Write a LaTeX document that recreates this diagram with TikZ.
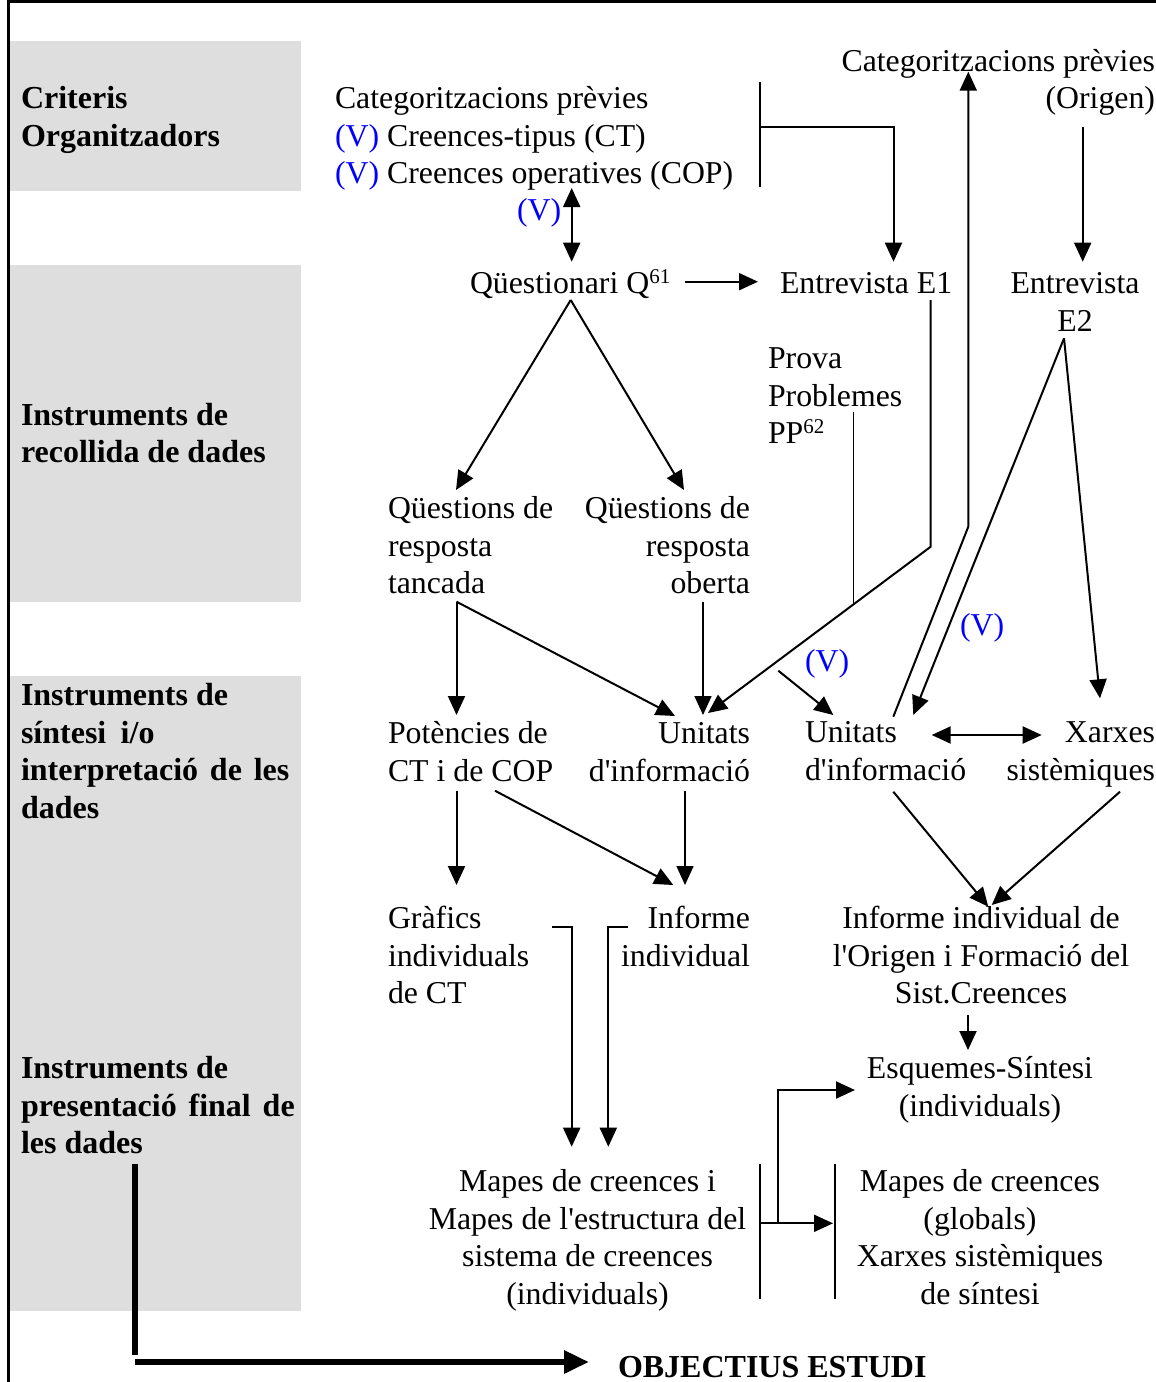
\documentclass[tikz,border=0pt]{standalone}
\usepackage{fontspec}
\setmainfont{Liberation Serif}[Ligatures=TeXOff]
\usetikzlibrary{arrows.meta}
\definecolor{vblue}{RGB}{0,0,255}
\definecolor{bandgray}{RGB}{222,222,222}
% raised small figures for footnote marks
\newcommand\supx[1]{\raisebox{10pt}{\fontsize{21}{21}\selectfont #1}}
\begin{document}
\begin{tikzpicture}[x=1pt,y=-1pt,
  every node/.style={inner sep=0pt, outer sep=0pt, font=\fontsize{31.8}{37.5}\selectfont},
  txl/.style={anchor=north west, yshift=25.5pt, align=left},
  txr/.style={anchor=north east, yshift=25.5pt, align=right},
  txc/.style={anchor=north, yshift=25.5pt, align=center},
  hdr/.style={font=\fontsize{32}{37.5}\selectfont\bfseries},
  vtag/.style={text=vblue},
  link/.style={line width=2pt},
  fine/.style={line width=1.5pt},
  arr/.style={-{Triangle[length=19pt,width=17pt]}},
  darr/.style={{Triangle[length=19pt,width=17pt]}-{Triangle[length=19pt,width=17pt]}},
  band/.style={fill=bandgray, draw=none},
]
\useasboundingbox (0,0) rectangle (1156,1382);

% grey bands of the left column
\fill[band] (10,41) rectangle (301,191);
\fill[band] (10,265) rectangle (301,602);
\fill[band] (10,676) rectangle (301,1311);

% frame
\draw[line width=3pt] (7,1.5) -- (1156,1.5);
\draw[line width=3pt] (8.5,0) -- (8.5,1382);

% row headings
\node[txl,hdr] (crit) at (21,108) {\strut Criteris\\Organitzadors};
\node[txl,hdr] (reco) at (21,424.5) {\strut Instruments de\\recollida de dades};
\node[txl,hdr] (sint) at (21,705) {\strut Instruments de\\síntesi\hspace{0.2em} i/o\\interpretació\hspace{0.12em} de\hspace{0.12em} les\\dades};
\node[txl,hdr] (pres) at (21,1078) {\strut Instruments de\\presentació\hspace{0.12em} final\hspace{0.12em} de\\les dades};
\node[txl,hdr] (obj) at (618,1377) {\strut OBJECTIUS ESTUDI};

% contents
\node[txl] (catp) at (335,108) {\strut Categoritzacions prèvies\\{\color{vblue}(V)} Creences-tipus (CT)\\{\color{vblue}(V)} Creences operatives (COP)};
\node[txr] (cato) at (1155,70.5) {\strut Categoritzacions prèvies\\(Origen)};
\node[txl,vtag] (v1) at (517,220) {\strut (V)};
\node[txl] (qst) at (470,293) {\strut Qüestionari Q\supx{61}};
\node[txl] (ent1) at (780,293) {\strut Entrevista E1};
\node[txc] (ent2) at (1075,293) {\strut Entrevista\\E2};
\node[txl] (prova) at (768,368) {\strut Prova\\Problemes\\PP\supx{62}};
\node[txl] (qtanc) at (388,518) {\strut Qüestions de\\resposta\\tancada};
\node[txr] (qobe) at (750,518) {\strut Qüestions de\\resposta\\oberta};
\node[txl,vtag] (v2) at (805,670.5) {\strut (V)};
\node[txl,vtag] (v3) at (960,635) {\strut (V)};
\node[txl] (pot) at (388,743) {\strut Potències de\\CT i de COP};
\node[txr] (uni1) at (750,743) {\strut Unitats\\d'informació};
\node[txl] (uni2) at (805,742) {\strut Unitats\\d'informació};
\node[txr] (xar) at (1155,742) {\strut Xarxes\\sistèmiques};
\node[txl] (graf) at (388,928) {\strut Gràfics\\individuals\\de CT};
\node[txr] (infi) at (750,928) {\strut Informe\\individual};
\node[txc] (info) at (981,928) {\strut Informe individual de\\l'Origen i Formació del\\Sist.Creences};
\node[txc] (esq) at (980,1078) {\strut Esquemes-Síntesi\\(individuals)};
\node[txc] (mapi) at (587.5,1191) {\strut Mapes de creences i\\Mapes de l'estructura del\\sistema de creences\\(individuals)};
\node[txc] (mapg) at (980,1191) {\strut Mapes de creences\\(globals)\\Xarxes sistèmiques\\de síntesi};

% connector end points
\coordinate (catpS) at (571.7,188);
\coordinate (qstN) at (571.7,261.7);
\coordinate (qstE) at (685,281.7);
\coordinate (ent1W) at (758,281.7);
\coordinate (brT) at (760,81.7);
\coordinate (brB) at (760,186.7);
\coordinate (brM) at (760,126.7);
\coordinate (ent1N) at (893.5,261.7);
\coordinate (catoS) at (1082.7,126.7);
\coordinate (ent2N) at (1082.7,261.7);
\coordinate (uni2N) at (893.3,716.7);
\coordinate (upBend) at (968.3,526.7);
\coordinate (catoB) at (968.3,71.7);
\coordinate (ent1S) at (930.7,300);
\coordinate (e1Bend) at (930.7,546.7);
\coordinate (uni1NE) at (708,713);
\coordinate (ppS) at (853.3,411.7);
\coordinate (ppJoin) at (853.3,603.5);
\coordinate (qstS) at (570.7,300);
\coordinate (qtancN) at (456,490);
\coordinate (qobeN) at (684,490);
\coordinate (qtancS) at (456.5,601.7);
\coordinate (potN) at (456.5,715);
\coordinate (uni1N) at (675,716);
\coordinate (qobeS) at (703,601.7);
\coordinate (uni1Nb) at (703,715);
\coordinate (vStart) at (778.3,670.7);
\coordinate (uni2Nb) at (833.3,715);
\coordinate (ent2S) at (1064,338.3);
\coordinate (uni2NE) at (913.3,715);
\coordinate (xarN) at (1100,698.3);
\coordinate (uni2E) at (931.7,735);
\coordinate (xarW) at (1041.7,735);
\coordinate (potS) at (456.5,790.7);
\coordinate (grafN) at (456.5,885);
\coordinate (potSE) at (495,790.7);
\coordinate (infiN) at (673.3,885);
\coordinate (uni1S) at (685,790.7);
\coordinate (infiNb) at (685,885);
\coordinate (uni2S) at (893.3,791.7);
\coordinate (infoN) at (988.3,906.7);
\coordinate (xarS) at (1120,791.7);
\coordinate (infoNb) at (991.7,905);
\coordinate (infoS) at (968,1015);
\coordinate (esqN) at (968,1050);
\coordinate (grafE) at (551.7,927.3);
\coordinate (grafBend) at (571.7,927.3);
\coordinate (mapiN) at (571.7,1146.7);
\coordinate (infiW) at (628.3,927.3);
\coordinate (infiBend) at (608.3,927.3);
\coordinate (mapiNb) at (608.3,1146.7);
\coordinate (mapiT) at (760,1164);
\coordinate (mapiB) at (760,1299);
\coordinate (mapgT) at (835,1164);
\coordinate (mapgB) at (835,1299);
\coordinate (mapiE) at (760,1223.3);
\coordinate (mapgW) at (833,1223.3);
\coordinate (splitP) at (778.3,1223.3);
\coordinate (esqW) at (855,1090);
\coordinate (presS) at (135,1164);
\coordinate (presB) at (135,1355);
\coordinate (objL) at (135,1362);
\coordinate (objW) at (589,1362);

% connectors
\draw[link,darr] (catpS) -- (qstN);
\draw[link,arr] (qstE) -- (ent1W);
\draw[link] (brT) -- (brB);
\draw[link,arr] (brM) -| (ent1N);
\draw[link,arr] (catoS) -- (ent2N);
\draw[link,arr] (uni2N) -- (upBend) -- (catoB);
\draw[link,arr] (ent1S) -- (e1Bend) -- (uni1NE);
\draw[fine] (ppS) -- (ppJoin);
\draw[link,arr] (qstS) -- (qtancN);
\draw[link,arr] (qstS) -- (qobeN);
\draw[link,arr] (qtancS) -- (potN);
\draw[link,arr] (qtancS) -- (uni1N);
\draw[fine,arr] (qobeS) -- (uni1Nb);
\draw[link,arr] (vStart) -- (uni2Nb);
\draw[link,arr] (ent2S) -- (uni2NE);
\draw[link,arr] (ent2S) -- (xarN);
\draw[link,darr] (uni2E) -- (xarW);
\draw[link,arr] (potS) -- (grafN);
\draw[link,arr] (potSE) -- (infiN);
\draw[fine,arr] (uni1S) -- (infiNb);
\draw[link,arr] (uni2S) -- (infoN);
\draw[link,arr] (xarS) -- (infoNb);
\draw[link,arr] (infoS) -- (esqN);
\draw[link,arr] (grafE) -- (grafBend) -- (mapiN);
\draw[link,arr] (infiW) -- (infiBend) -- (mapiNb);
\draw[link] (mapiT) -- (mapiB);
\draw[link] (mapgT) -- (mapgB);
\draw[link,arr] (mapiE) -- (mapgW);
\draw[link,arr] (splitP) |- (esqW);
\draw[line width=6pt] (presS) -- (presB);
\draw[line width=6pt,-{Triangle[length=25pt,width=22pt]}] (objL) -- (objW);
\end{tikzpicture}
\end{document}
